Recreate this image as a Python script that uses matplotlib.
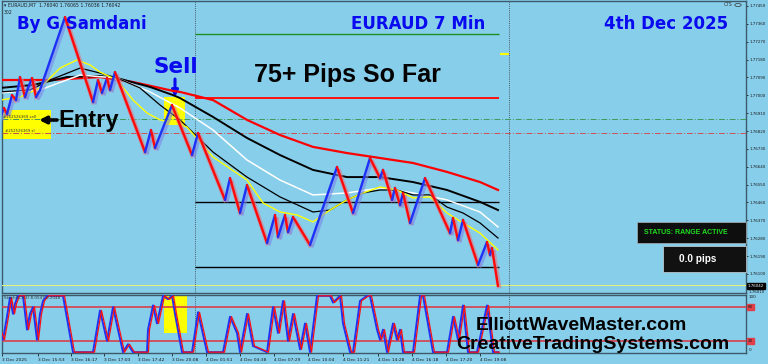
import matplotlib
matplotlib.use("Agg")
import matplotlib.pyplot as plt
import numpy as np
from matplotlib.collections import LineCollection
from matplotlib.patches import Rectangle
from matplotlib.transforms import offset_copy

W, H = 768, 364
BG = '#87CEEB'
BLUE = '#1E32F5'
RED = '#FF0A0A'
TITLE_BLUE = '#0A0AF0'

# ---------------- data ----------------
# zig-zag price path (bar index, price)
zz_bar = [0, 4, 7, 12, 16, 20, 25, 28, 32, 36, 40, 65, 93, 98, 102, 107, 110, 115,
          145, 151, 155, 172, 192, 198, 225, 230, 240, 247, 267, 275, 278, 285, 288,
          293, 310, 337, 353, 370, 380, 383, 392, 395, 400, 403, 410, 425, 450, 453,
          458, 463, 478, 487, 490, 492, 498]
zz_price = [1.76886, 1.76936, 1.76906, 1.77001, 1.76976, 1.77092, 1.76991, 1.77037,
            1.77087, 1.76991, 1.77027, 1.77394, 1.76966, 1.77077, 1.77012, 1.77087,
            1.77027, 1.77117, 1.76714, 1.76825, 1.76735, 1.76951, 1.76699, 1.76810,
            1.76473, 1.76583, 1.76407, 1.76548, 1.76256, 1.76397, 1.76286, 1.76397,
            1.76311, 1.76387, 1.76246, 1.76639, 1.76407, 1.76684, 1.76583, 1.76624,
            1.76473, 1.76533, 1.76447, 1.76508, 1.76357, 1.76583, 1.76306, 1.76382,
            1.76271, 1.76372, 1.76145, 1.76261, 1.76196, 1.76231, 1.76039]

ma_red_bar = [0, 50, 100, 133, 173, 180, 213, 247, 280, 313, 347, 380, 413, 447, 480, 498]
ma_red = [1.77077, 1.77077, 1.77092, 1.77067, 1.77022, 1.77017, 1.76976, 1.76876,
          1.76800, 1.76740, 1.76709, 1.76684, 1.76659, 1.76614, 1.76563, 1.76523]

ma_black_bar = [0, 33, 67, 100, 117, 150, 173, 180, 213, 247, 280, 313, 347, 380, 413, 447, 480, 498]
ma_black = [1.77037, 1.77052, 1.77092, 1.77097, 1.77087, 1.77042, 1.77001, 1.76986,
            1.76891, 1.76785, 1.76699, 1.76624, 1.76588, 1.76588, 1.76563, 1.76523,
            1.76463, 1.76422]

ma_white_bar = [0, 40, 80, 117, 150, 180, 213, 247, 280, 313, 347, 380, 413, 447, 480, 498]
ma_white = [1.77012, 1.77027, 1.77102, 1.77087, 1.77017, 1.76936, 1.76825, 1.76674,
            1.76573, 1.76498, 1.76508, 1.76533, 1.76508, 1.76473, 1.76412, 1.76337]

ma_thin_bar = [0, 30, 50, 80, 100, 117, 140, 160, 180, 213, 247, 280, 313, 330, 347,
               363, 380, 397, 413, 430, 447, 463, 480, 498]
ma_thin = [1.77017, 1.77027, 1.77077, 1.77137, 1.77112, 1.77087, 1.77037, 1.76951,
           1.76876, 1.76714, 1.76588, 1.76488, 1.76412, 1.76422, 1.76473, 1.76508,
           1.76523, 1.76523, 1.76498, 1.76498, 1.76437, 1.76407, 1.76357, 1.76281]

ma_yellow_bar = [0, 20, 40, 60, 77, 90, 100, 117, 133, 147, 160, 173, 187, 213, 247,
                 263, 280, 297, 313, 330, 347, 363, 380, 397, 413, 430, 447, 463, 480, 498]
ma_yellow = [1.76976, 1.76991, 1.77037, 1.77137, 1.77178, 1.77153, 1.77117, 1.77077,
             1.76976, 1.76911, 1.76876, 1.76865, 1.76840, 1.76689, 1.76573, 1.76458,
             1.76412, 1.76397, 1.76362, 1.76422, 1.76473, 1.76508, 1.76538, 1.76523,
             1.76483, 1.76488, 1.76407, 1.76357, 1.76306, 1.76221]

level_green = 1.77309
level_red = 1.76986
level_black = [1.76463, 1.76135]
entry_line = 1.76881
stop_line = 1.76810
marker_level = 1.77208
bid_price = 1.76042

stoch_bar = [0, 3, 7, 10, 13, 15, 18, 23, 27, 30, 33, 37, 40, 43, 47, 63, 73, 93, 100,
             107, 113, 123, 128, 133, 147, 148, 153, 157, 163, 168, 172, 175, 182, 192,
             198, 207, 223, 230, 237, 240, 247, 253, 267, 273, 278, 283, 288, 293, 300,
             305, 310, 317, 330, 333, 340, 343, 350, 353, 360, 367, 370, 377, 380, 383,
             387, 393, 397, 400, 403, 413, 420, 423, 433, 447, 453, 458, 463, 468, 477,
             487, 493, 498]
stoch_val = [37, 22, 63, 97, 68, 86, 100, 100, 40, 68, 80, 22, 68, 91, 100, 100, 0, 0,
             74, 20, 80, 0, 14, 0, 0, 40, 83, 51, 100, 94, 100, 68, 0, 0, 71, 0, 0, 63,
             34, 0, 68, 11, 0, 80, 34, 91, 20, 68, 5, 51, 0, 100, 100, 88, 100, 51, 0,
             0, 91, 100, 100, 40, 22, 40, 0, 51, 22, 40, 0, 0, 100, 100, 0, 0, 63, 22,
             83, 0, 0, 83, 0, 0]
stoch_levels = [80, 20]

price_ticks = [1.77450, 1.77360, 1.77270, 1.77180, 1.77090, 1.77000, 1.76910, 1.76820,
               1.76730, 1.76640, 1.76550, 1.76460, 1.76370, 1.76280, 1.76190, 1.76100]
date_pos = [2, 38, 71, 104, 138, 172, 206, 240, 274, 308, 343, 378, 412, 446, 480]
date_labels = ['3 Dec 2025', '3 Dec 15:53', '3 Dec 16:17', '3 Dec 17:03', '3 Dec 17:42',
               '3 Dec 20:08', '4 Dec 01:51', '4 Dec 04:38', '4 Dec 07:29', '4 Dec 10:04',
               '4 Dec 11:21', '4 Dec 14:28', '4 Dec 16:18', '4 Dec 17:20', '4 Dec 19:08']

# ---------------- figure ----------------
fig = plt.figure(figsize=(W / 100, H / 100), dpi=100, facecolor=BG)

def fx(x):
    return x / W

def fy(y):
    return 1 - y / H

ax = fig.add_axes([fx(2), fy(293), 744 / W, 292 / H], facecolor=BG)
ax2 = fig.add_axes([fx(2), fy(353), 744 / W, 58 / H], facecolor=BG)

ax.set_xlim(2, 746)
ax.set_ylim(1.76004, 1.77475)
ax2.set_xlim(2, 746)
ax2.set_ylim(-1.5, 101.5)

for a in (ax, ax2):
    for s in a.spines.values():
        s.set_color('#3E5A68')
        s.set_linewidth(1.0)

# price axis on right
ax.yaxis.tick_right()
ax.set_yticks(price_ticks)
ax.set_yticklabels([f'{p:.5f}' for p in price_ticks])
ax.tick_params(axis='y', labelsize=2.9, length=1.5, width=0.6, pad=0.8, colors='#1a1a1a')
ax.set_xticks([])

ax2.set_yticks([])
ax2.set_xticks(date_pos)
ax2.set_xticklabels(date_labels, ha='left')
ax2.tick_params(axis='x', labelsize=3.2, length=2, width=0.6, pad=1.5, colors='#1a1a1a')

# vertical dotted separators
for a in (ax, ax2):
    for xv in (195, 509):
        a.axvline(xv, color='#4A5A66', lw=0.7, ls=(0, (1, 1.2)), zorder=1)

# boxes (behind lines)
ax.add_patch(Rectangle((2, 1.76780), 49, 1.76926 - 1.76780, color='#FFFF00', zorder=2, lw=0))
ax.add_patch(Rectangle((164, 1.76850), 21, 1.76991 - 1.76850, color='#FFFF00', zorder=2, lw=0))
ax2.add_patch(Rectangle((164, 34), 23, 66, color='#FFFF00', zorder=2, lw=0))

# horizontal levels
ax.hlines(level_green, 195, 499, color='#1F8F1F', lw=1.0, zorder=3)
ax.hlines(level_red, 195, 499, color='#FF1010', lw=1.4, zorder=3)
for lv in level_black:
    ax.hlines(lv, 195, 499, color='black', lw=1.0, zorder=3)
ax.axhline(entry_line, color='#3E9A5A', lw=0.7, ls=(0, (6, 2, 1, 2)), zorder=3)
ax.axhline(stop_line, color='#D05050', lw=0.7, ls=(0, (6, 2, 1, 2)), zorder=3)
ax.hlines(marker_level, 500, 509, color='#FFFF00', lw=1.6, zorder=3)
ax.axhline(bid_price, color='#E2F07A', lw=0.8, zorder=3)

# moving averages
ax.plot(ma_red_bar, ma_red, color='#FF0000', lw=1.6, zorder=5)
ax.plot(ma_black_bar, ma_black, color='black', lw=1.4, zorder=5)
ax.plot(ma_white_bar, ma_white, color='white', lw=1.1, zorder=5)
ax.plot(ma_thin_bar, ma_thin, color='black', lw=0.9, zorder=5)
ax.plot(ma_yellow_bar, ma_yellow, color='#FFFF00', lw=1.0, zorder=5)

# zig-zag price path, coloured by direction, with soft shadow
pts = np.column_stack([zz_bar, zz_price])
segs = np.stack([pts[:-1], pts[1:]], axis=1)
up = np.diff(np.array(zz_price)) > 0
main_cols = [BLUE if u else RED for u in up]
shadow_cols = [('#7A86E6' if u else '#E07A88') for u in up]
shadow = LineCollection(segs, colors=shadow_cols, linewidths=3.4, alpha=0.6,
                        transform=offset_copy(ax.transData, fig=fig, x=1.2, y=-2.2, units='dots'),
                        zorder=6, capstyle='butt')
ax.add_collection(shadow)
main = LineCollection(segs, colors=main_cols, linewidths=1.7, zorder=7, capstyle='round')
ax.add_collection(main)

# stochastic
ax2.plot(stoch_bar, stoch_val, color='#1E32F5', lw=1.4, zorder=5)
ax2.plot(stoch_bar, stoch_val, color='#FF1010', lw=0.9, zorder=6,
         transform=offset_copy(ax2.transData, fig=fig, x=1.5, y=0, units='dots'))
for lv in stoch_levels:
    ax2.axhline(lv, color='#D8404C', lw=1.2, zorder=4)

# ---------------- texts ----------------
def T(x, y, s, **kw):
    fig.text(fx(x), fy(y), s, **kw)

bold_dv = dict(family='DejaVu Sans', weight='bold')
bold_lib = dict(family='Liberation Sans', weight='bold')

T(17, 29, 'By G Samdani', color=TITLE_BLUE, fontsize=12, va='baseline', **bold_dv)
T(418, 29, 'EURAUD 7 Min', color=TITLE_BLUE, fontsize=12, va='baseline', ha='center', **bold_dv)
T(666, 29, '4th Dec 2025', color=TITLE_BLUE, fontsize=12, va='baseline', ha='center', **bold_dv)
T(347, 82, '75+ Pips So Far', color='black', fontsize=18, va='baseline', ha='center', **bold_lib)
T(176, 73, 'Sell', color=TITLE_BLUE, fontsize=15.5, va='baseline', ha='center', **bold_dv)
T(58, 127, 'Entry', color='black', fontsize=17, va='baseline', ha='left', **bold_lib)

ax.annotate('', xy=(fx(175), fy(97)), xytext=(fx(175), fy(79)), xycoords='figure fraction',
            textcoords='figure fraction',
            arrowprops=dict(arrowstyle='-|>', color=TITLE_BLUE, lw=2.2, mutation_scale=9,
                            shrinkA=0, shrinkB=0))
ax.annotate('', xy=(fx(39), fy(120)), xytext=(fx(57), fy(120)), xycoords='figure fraction',
            textcoords='figure fraction',
            arrowprops=dict(arrowstyle='-|>', color='black', lw=2.6, mutation_scale=10,
                            shrinkA=0, shrinkB=0))

T(3, 117, '#252526369 sell', color='#333333', fontsize=2.8, va='center', family='DejaVu Sans')
T(5, 131, '#252526369 sl', color='#333333', fontsize=2.8, va='center', family='DejaVu Sans')

T(581, 330, 'ElliottWaveMaster.com', color='black', fontsize=14, va='baseline', ha='center', **bold_lib)
T(593, 349, 'CreativeTradingSystems.com', color='black', fontsize=14, va='baseline', ha='center', **bold_lib)

# header info
T(4, 5, '\u25be EURAUD,M7  1.76040 1.76065 1.76036 1.76042', color='#1a1a1a', fontsize=3.3,
  va='center', family='DejaVu Sans')
T(4, 13, '302', color='#1a1a1a', fontsize=3.3, va='center', family='DejaVu Sans')
T(733, 5, 'CTS', color='#333333', fontsize=3.3, va='center', ha='right', family='DejaVu Sans')
fig.add_artist(plt.Circle((fx(738), fy(5)), 3.2 / W, transform=fig.transFigure,
                          facecolor='none', edgecolor='#333333', lw=0.5))
T(4, 298, 'Stoch(5,3,3) 8.0547 0.2048', color='#333333', fontsize=3.0, va='center',
  family='DejaVu Sans')

# status panels
fig.add_artist(Rectangle((fx(637), fy(243)), 109 / W, 21 / H, transform=fig.transFigure,
                         facecolor='#0E0E0E', edgecolor='#9AA4AA', lw=0.6, zorder=10))
T(686, 233, 'STATUS: RANGE ACTIVE', color='#1EE01E', fontsize=5, ha='center', va='center',
  zorder=11, **bold_lib)
fig.add_artist(Rectangle((fx(663), fy(272)), 83 / W, 26 / H, transform=fig.transFigure,
                         facecolor='#111111', edgecolor='#B8C4CA', lw=0.6, zorder=10))
T(698, 259, '0.0 pips', color='white', fontsize=7.2, ha='center', va='center', zorder=11,
  **bold_lib)

# right side labels: current price and lower panel levels
T(748, 286, '1.76042', color='white', fontsize=2.9, va='center', family='DejaVu Sans',
  bbox=dict(boxstyle='square,pad=0.25', facecolor='black', edgecolor='black'))
T(749, 292, '1.76010', color='#1a1a1a', fontsize=2.9, va='center', family='DejaVu Sans')
T(749, 297, '100', color='#1a1a1a', fontsize=3.0, va='center', family='DejaVu Sans')
T(749, 350, '0', color='#1a1a1a', fontsize=3.0, va='center', family='DejaVu Sans')
T(748, 307, '80', color='#1a1a1a', fontsize=3.0, va='center', family='DejaVu Sans',
  bbox=dict(boxstyle='square,pad=0.2', facecolor='#E04048', edgecolor='#E04048'))
T(748, 341, '20', color='#1a1a1a', fontsize=3.0, va='center', family='DejaVu Sans',
  bbox=dict(boxstyle='square,pad=0.2', facecolor='#E04048', edgecolor='#E04048'))

fig.savefig('out.png', dpi=100, facecolor=BG)
